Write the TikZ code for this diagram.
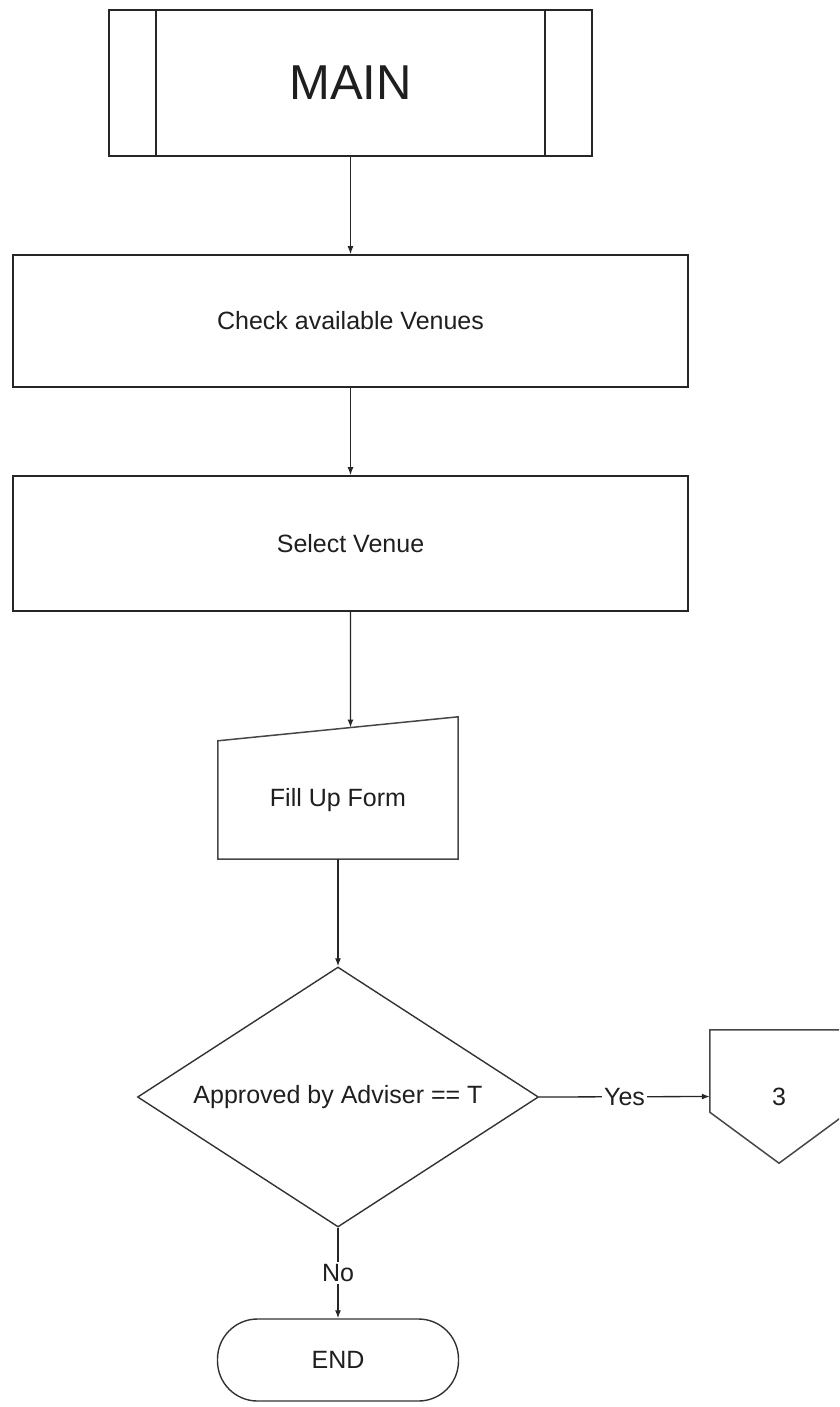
\documentclass[tikz,border=0pt]{standalone}
\usepackage{fontspec}
\setmainfont{Liberation Sans}
\usetikzlibrary{shapes.geometric,arrows.meta,calc}
\begin{document}
\begin{tikzpicture}[x=1pt,y=-1pt,
  txt/.style={font=\fontsize{25}{29}\selectfont, text=black!88},
  box/.style={txt, draw=black!85, line width=1.7pt, rectangle, inner sep=0pt},
  shapeline/.style={draw=black!72, line width=1.5pt, line join=miter},
  flow/.style={draw=black!85, line width=1.3pt, -{Latex[length=8pt,width=6pt]}},
  lbl/.style={txt, fill=white, inner sep=2pt}
]
\clip (0,0) rectangle (839,1407);
\fill[white] (0,0) rectangle (839,1407);

% predefined process: MAIN
\node[box, minimum width=483, minimum height=146,
      font=\fontsize{49}{56}\selectfont] (main) at (350.5,83) {MAIN};
\draw[line width=1.7pt, black!85] ([xshift=48pt]main.north west) -- ([xshift=48pt]main.south west);
\draw[line width=1.7pt, black!85] ([xshift=-48pt]main.north east) -- ([xshift=-48pt]main.south east);

% process boxes
\node[box, minimum width=675, minimum height=132] (check) at (350.5,321) {Check available Venues};
\node[box, minimum width=675, minimum height=135] (select) at (350.5,543.5) {Select Venue};

% manual input: Fill Up Form
\node[txt, minimum width=240, minimum height=118, inner sep=0pt] (form) at (338,800) {Fill Up Form};
\coordinate (formtr) at ([yshift=24pt]form.north east);
\draw[shapeline] (form.south west) -- (form.north west) -- (formtr) -- (form.south east) -- cycle;

% decision
\node[txt, draw=black!80, line width=1.4pt, diamond, aspect=1.54, minimum width=401,
      minimum height=260, inner sep=0pt] (dec) at (338,1097) {Approved by Adviser == T};

% off-page connector
\node[txt, minimum width=138, minimum height=133, inner sep=0pt] (conn) at (779,1096.5) {3};
\draw[shapeline] (conn.north west) -- (conn.north east) -- ([yshift=51pt]conn.south east)
  -- (conn.south) -- ([yshift=51pt]conn.south west) -- cycle;

% terminator
\node[box, draw=black!80, line width=1.4pt, rounded corners=40pt, minimum width=241,
      minimum height=82] (end) at (338,1360) {END};

% connectors
\draw[flow] (main.south) -- (check.north);
\draw[flow] (check.south) -- (select.north);
\coordinate (drop) at ([yshift=-250pt]select.south);
\draw[flow] (select.south) -- (intersection of select.south--drop and form.north west--formtr);
\draw[flow] (form.south) -- (dec.north);
\draw[flow] (dec.east) -- node[lbl] {Yes} (conn.west);
\draw[flow] (dec.south) -- node[lbl] {No} (end.north);
\end{tikzpicture}
\end{document}
